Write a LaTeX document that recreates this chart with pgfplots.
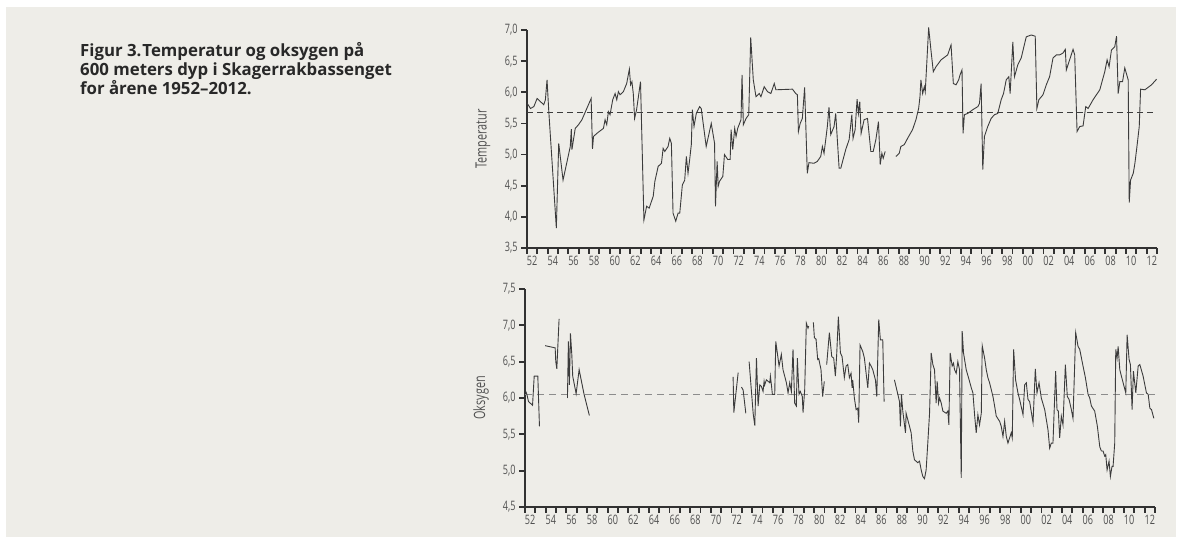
\documentclass[border=0pt]{standalone}
\usepackage{pgfplots}
\pgfplotsset{compat=1.18}
\usepackage{fontspec}
\setmainfont{Open Sans}
\newfontfamily\condfont[FakeStretch=0.7]{Open Sans}
\definecolor{bg}{RGB}{238,237,232}
\definecolor{ax}{RGB}{50,50,50}
\definecolor{tl}{RGB}{80,80,80}
\definecolor{ln}{RGB}{60,60,60}
\definecolor{cap}{RGB}{40,40,40}

\pgfplotstableread{
x y
1952.02 5.82
1952.34 5.74
1952.66 5.77
1952.98 5.90
1953.30 5.85
1953.62 5.80
1953.78 5.88
1953.94 6.20
1954.10 5.72
1954.84 3.82
1955.07 5.18
1955.49 4.59
1956.19 5.13
1956.29 5.41
1956.35 5.08
1956.67 5.42
1956.99 5.48
1957.32 5.56
1958.21 5.90
1958.34 5.09
1958.44 5.29
1958.76 5.34
1959.40 5.42
1959.56 5.56
1959.72 5.48
1959.88 5.69
1960.04 5.64
1960.30 5.88
1960.53 5.98
1960.69 5.88
1960.85 6.01
1961.01 5.96
1961.33 6.01
1961.65 6.14
1961.91 6.37
1962.03 6.12
1962.16 6.17
1962.29 5.98
1962.42 5.58
1962.61 5.72
1962.99 6.17
1963.32 3.95
1963.58 4.17
1963.83 4.14
1964.22 4.33
1964.38 4.57
1964.70 4.81
1965.02 4.86
1965.18 5.10
1965.34 5.05
1965.66 5.13
1965.82 5.26
1965.98 5.18
1966.14 4.06
1966.40 3.93
1966.63 4.06
1966.79 4.06
1967.04 4.51
1967.27 4.59
1967.43 4.97
1967.59 4.70
1967.75 4.92
1967.91 5.16
1968.01 5.72
1968.17 5.45
1968.39 5.66
1968.71 5.77
1968.87 5.74
1969.35 5.13
1969.84 5.50
1970.16 5.18
1970.25 4.17
1970.41 4.89
1970.51 4.49
1970.64 4.57
1970.96 4.65
1971.12 5.00
1971.44 4.92
1971.67 4.92
1971.76 5.40
1971.92 5.08
1972.11 5.42
1972.24 5.29
1972.40 5.42
1972.72 5.56
1972.82 6.28
1972.95 5.48
1973.21 5.58
1973.47 5.64
1973.66 6.88
1973.91 6.20
1974.17 5.93
1974.49 5.98
1974.65 5.93
1974.97 6.09
1975.29 6.01
1975.61 5.98
1975.94 6.14
1976.10 6.04
1977.70 6.05
1978.02 5.98
1978.18 5.96
1978.28 5.37
1978.45 5.50
1978.66 5.58
1978.88 6.08
1979.14 4.70
1979.30 4.87
1979.79 4.86
1980.11 4.89
1980.44 4.97
1980.60 5.13
1980.76 5.02
1981.08 5.45
1981.24 5.76
1981.41 5.32
1981.73 5.45
1981.89 5.66
1982.22 4.78
1982.38 4.78
1982.86 5.08
1983.19 5.24
1983.45 5.64
1983.57 5.26
1983.77 5.40
1983.96 5.89
1984.09 5.66
1984.22 5.85
1984.35 5.34
1984.64 5.56
1984.97 5.58
1985.29 5.05
1985.52 5.05
1985.78 5.24
1986.03 5.53
1986.20 4.84
1986.36 5.02
1986.49 4.94
1986.68 5.05
}\tempA

\pgfplotstableread{
x y
1987.72 4.97
1988.04 5.02
1988.20 5.13
1988.53 5.16
1988.85 5.26
1989.33 5.40
1989.66 5.56
1989.92 5.74
1990.05 5.93
1990.14 6.20
1990.31 5.98
1990.47 6.09
1990.56 6.01
1990.69 6.41
1990.89 7.04
1991.11 6.68
1991.34 6.33
1991.60 6.41
1992.09 6.52
1992.73 6.60
1993.06 6.76
1993.28 6.14
1993.54 6.12
1993.80 6.20
1993.93 6.28
1994.12 6.36
1994.22 5.34
1994.35 5.64
1994.67 5.66
1995.16 5.72
1995.65 5.77
1995.81 5.82
1995.97 6.14
1996.13 4.76
1996.29 5.29
1996.61 5.45
1996.94 5.58
1997.26 5.64
1997.58 5.66
1997.91 5.88
1998.14 5.98
1998.40 6.20
1998.65 6.25
1998.78 5.98
1999.04 6.81
1999.20 6.25
1999.52 6.44
1999.85 6.55
2000.08 6.71
2000.34 6.89
2000.82 6.92
2001.21 6.90
2001.37 5.74
2001.56 5.88
2001.96 5.96
2002.28 6.12
2002.60 6.25
2002.93 6.55
2003.25 6.60
2003.57 6.60
2003.90 6.63
2004.12 6.69
2004.22 6.36
2004.54 6.52
2004.87 6.69
2005.03 6.60
2005.26 5.37
2005.52 5.45
2005.84 5.46
2006.10 5.77
2006.33 5.74
2006.81 5.88
2007.46 6.04
2007.94 6.33
2008.17 6.52
2008.36 6.41
2008.59 6.68
2008.91 6.73
2009.08 6.90
2009.24 5.98
2009.40 6.17
2009.66 6.17
2009.88 6.39
2010.21 6.20
2010.31 4.23
2010.44 4.59
2010.70 4.70
2010.86 4.86
2011.08 5.16
2011.28 5.45
2011.41 6.05
2011.83 6.04
2012.15 6.08
2012.47 6.12
2012.96 6.21
}\tempB

\pgfplotstableread{
x y
1952.08 6.09
1952.18 6.05
1952.34 5.95
1952.66 5.91
1952.73 5.90
1952.89 6.30
1953.24 6.30
1953.40 5.61
}\oxA
\pgfplotstableread{
x y
1953.95 6.72
1954.92 6.69
1954.98 6.50
1955.08 6.40
1955.30 7.09
}\oxB
\pgfplotstableread{
x y
1956.11 6.00
1956.20 6.78
1956.30 6.18
1956.40 6.89
1956.53 6.60
1956.62 6.30
1956.95 6.06
1957.24 6.39
1957.72 6.05
1958.23 5.76
}\oxC
\pgfplotstableread{
x y
1972.15 6.29
1972.22 5.80
1972.64 6.35
}\oxD
\pgfplotstableread{
x y
1972.96 6.15
1973.12 6.11
1973.38 5.79
}\oxE
\pgfplotstableread{
x y
1973.70 6.50
1974.09 5.79
1974.25 5.62
1974.41 6.55
1974.57 5.89
1974.73 6.18
1974.89 6.16
1975.05 6.09
1975.15 6.23
1975.21 6.18
1975.37 6.25
1975.70 6.21
1975.76 6.30
1975.86 6.18
1975.95 6.05
1976.18 6.05
1976.28 6.78
1976.60 6.44
1976.82 6.60
1976.98 6.39
1977.31 6.21
1977.47 6.07
1977.63 6.21
1977.79 6.09
1977.95 6.67
1978.11 5.93
1978.27 5.89
1978.37 6.55
1978.53 6.05
1978.66 6.09
1978.85 6.02
1978.92 5.80
1979.08 6.11
1979.24 7.03
1979.40 6.96
1979.47 6.99
}\oxF
\pgfplotstableread{
x y
1979.92 7.04
1980.02 6.83
1980.18 6.81
1980.34 6.53
1980.44 6.54
1980.66 6.39
1980.82 6.02
1980.98 6.23
}\oxG
\pgfplotstableread{
x y
1981.21 6.46
1981.47 6.90
1981.70 6.57
1981.89 6.55
1982.05 6.30
1982.18 6.60
1982.34 7.12
1982.54 6.62
1982.70 6.57
1982.92 6.28
1983.09 6.44
1983.25 6.46
1983.41 6.28
1983.57 6.34
1983.67 6.14
1983.73 6.25
1983.89 6.00
1984.06 5.84
1984.22 5.86
1984.31 5.66
1984.44 6.73
1984.70 6.64
1984.86 6.55
1985.19 6.14
1985.35 6.48
1985.51 6.44
1985.67 6.39
1985.93 6.25
1986.06 6.02
1986.25 7.08
1986.41 6.80
1986.64 6.80
1986.77 5.95
}\oxH
\pgfplotstableread{
x y
1987.77 6.25
1988.10 6.05
1988.26 5.95
1988.35 5.61
1988.45 6.05
1988.58 5.82
1988.84 5.52
1988.90 5.79
1989.23 5.61
1989.39 5.52
1989.55 5.27
1989.71 5.15
1989.87 5.13
1990.03 5.11
1990.20 5.13
1990.36 5.01
1990.52 4.92
1990.68 4.89
1990.84 5.01
1991.00 5.38
1991.17 5.79
1991.33 6.62
1991.49 6.46
1991.65 6.39
1991.81 5.93
1991.91 6.23
1992.04 5.93
1992.14 6.00
1992.30 5.93
1992.46 5.82
1992.78 5.79
1992.94 5.82
1993.04 5.63
1993.17 6.62
1993.36 6.44
1993.49 6.48
1993.59 6.39
1993.75 6.34
1993.91 6.50
1994.07 6.39
1994.24 4.90
1994.33 6.92
1994.46 6.62
1994.72 6.39
1995.04 6.23
1995.21 6.14
1995.37 6.07
1995.53 5.77
1995.69 5.52
1995.85 5.77
1996.01 5.63
1996.18 5.79
1996.27 6.72
1996.50 6.55
1996.66 6.39
1996.82 6.28
1996.98 6.21
1997.31 6.02
1997.47 5.89
1997.63 5.75
1997.95 5.68
1998.11 5.61
1998.28 5.47
1998.44 5.68
1998.60 5.47
1998.76 5.38
1998.92 5.45
1999.08 5.52
1999.18 5.45
1999.31 6.67
1999.50 6.25
1999.73 6.07
1999.89 5.98
2000.22 5.77
2000.38 6.18
2000.54 6.21
2000.70 5.98
2000.86 5.95
2001.19 5.66
2001.41 6.40
2001.57 6.07
2001.77 6.21
2001.99 6.00
2002.32 5.84
2002.64 5.56
2002.80 5.31
2002.96 5.38
2003.12 5.38
2003.38 6.37
2003.51 5.84
2003.64 5.82
2003.77 5.45
2003.93 5.75
2004.09 5.63
2004.32 6.46
2004.51 6.02
2004.68 5.98
2004.90 5.84
2005.06 5.72
2005.32 6.90
2005.55 6.71
2005.71 6.67
2006.03 6.44
2006.26 6.28
2006.52 6.05
2006.68 6.00
2006.84 5.89
2007.16 5.82
2007.42 5.61
2007.65 5.33
2007.81 5.27
2007.97 5.27
2008.13 5.20
2008.23 5.22
2008.36 5.01
2008.55 5.13
2008.68 4.92
2008.84 5.06
2008.94 5.06
2009.10 5.38
2009.20 6.67
2009.33 6.55
2009.43 6.71
2009.59 6.39
2009.91 6.21
2010.17 6.07
2010.30 6.87
2010.49 6.53
2010.62 6.46
2010.78 5.84
2010.91 6.37
2011.14 6.07
2011.37 6.44
2011.53 6.46
2011.85 6.30
2012.17 6.07
2012.34 6.05
2012.50 5.86
2012.66 5.84
2012.89 5.72
}\oxI

\pgfplotsset{
  mystyle/.style={
    scale only axis, width=630pt, height=218pt,
    axis lines=left,
    axis line style={-, line width=1.8pt, color=ax},
    xmin=1952, xmax=2013,
    xtick={1952,1953,...,2013}, xticklabels={},
    extra x ticks={1952.5,1954.5,1956.5,1958.5,1960.5,1962.5,1964.5,1966.5,1968.5,1970.5,1972.5,1974.5,1976.5,1978.5,1980.5,1982.5,1984.5,1986.5,1988.5,1990.5,1992.5,1994.5,1996.5,1998.5,2000.5,2002.5,2004.5,2006.5,2008.5,2010.5,2012.5},
    extra x tick labels={52,54,56,58,60,62,64,66,68,70,72,74,76,78,80,82,84,86,88,90,92,94,96,98,00,02,04,06,08,10,12},
    extra x tick style={major tick length=0pt, tick style={draw=none}, xticklabel style={yshift=-4.5pt}},
    tick align=outside, major tick length=6pt,
    tick style={line width=1.8pt, color=ax},
    tick label style={font=\condfont\fontsize{13}{14}\selectfont, text=tl},
    yticklabel style={/pgf/number format/.cd, use comma, fixed, fixed zerofill, precision=1},
    /pgf/number format/assume math mode=true,
    ylabel style={font=\condfont\fontsize{15.5}{16}\selectfont, text=tl, at={(axis description cs:0,0.5)}, anchor=center, yshift=44pt},
    clip=false,
  }
}

\begin{document}
\begin{tikzpicture}[x=1pt,y=1pt]
\fill[white] (0,0) rectangle (1177,537);
\fill[bg] (6,0) rectangle (1176,530);
\begin{scope}[font=\bfseries\fontsize{16.8}{19}\selectfont, text=cap]
\node[anchor=base west, inner sep=0pt] at (80,480) {Figur 3.\kern1pt Temperatur og oksygen på};
\node[anchor=base west, inner sep=0pt] at (80,461) {600 meters dyp i Skagerrakbassenget};
\node[anchor=base west, inner sep=0pt] at (80,442) {for årene 1952--2012.};
\end{scope}

\begin{axis}[mystyle, at={(527pt,289pt)}, anchor=south west,
  ymin=3.5, ymax=7.0, ytick={3.5,4,...,7}, ylabel={Temperatur}]
\addplot[ln, line width=0.8pt, dash pattern=on 6pt off 4pt] coordinates {(1952,5.68) (2013,5.68)};
\addplot[ln, line width=0.9pt] table[x=x,y=y] {\tempA};
\addplot[ln, line width=0.9pt] table[x=x,y=y] {\tempB};
\end{axis}

\begin{axis}[mystyle, at={(525pt,30pt)}, anchor=south west,
  ymin=4.5, ymax=7.5, ytick={4.5,5,...,7.5}, ylabel={Oksygen}]
\addplot[black!45, line width=1.2pt, dash pattern=on 7pt off 5pt] coordinates {(1952,6.05) (2013,6.05)};
\addplot[ln, line width=0.9pt] table[x=x,y=y] {\oxA};
\addplot[ln, line width=0.9pt] table[x=x,y=y] {\oxB};
\addplot[ln, line width=0.9pt] table[x=x,y=y] {\oxC};
\addplot[ln, line width=0.9pt] table[x=x,y=y] {\oxD};
\addplot[ln, line width=0.9pt] table[x=x,y=y] {\oxE};
\addplot[ln, line width=0.9pt] table[x=x,y=y] {\oxF};
\addplot[ln, line width=0.9pt] table[x=x,y=y] {\oxG};
\addplot[ln, line width=0.9pt] table[x=x,y=y] {\oxH};
\addplot[ln, line width=0.9pt] table[x=x,y=y] {\oxI};
\end{axis}
\end{tikzpicture}
\end{document}
